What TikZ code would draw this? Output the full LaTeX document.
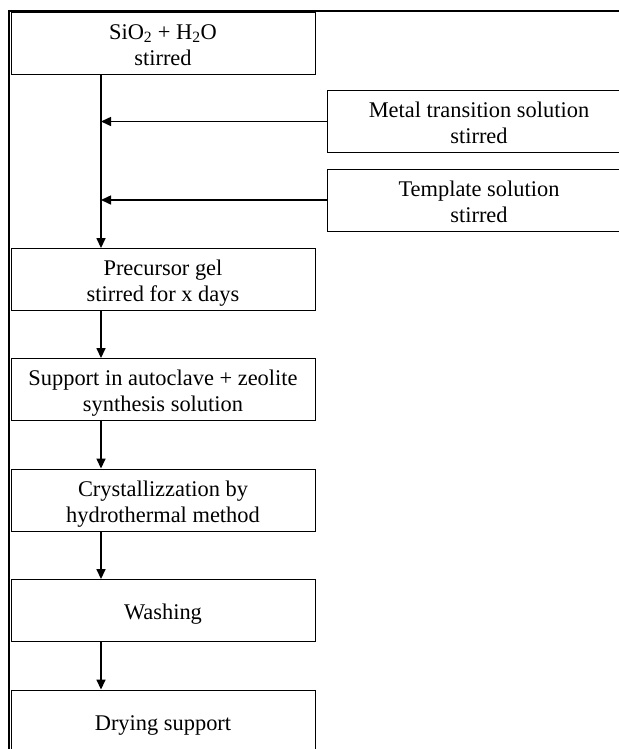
\documentclass[tikz,border=0pt]{standalone}
\usepackage{fontspec}
\setmainfont{Liberation Serif}
\usetikzlibrary{arrows.meta,positioning,calc}

% box text, set a little below the middle of the box
\newcommand{\steptext}[1]{\raisebox{-4bp}[\height][\depth]{\begin{tabular}{@{}c@{}}#1\end{tabular}}}

\tikzset{
    stepbox/.style={draw, line width=0.9bp, minimum width=304bp, minimum height=62bp,
        inner sep=0pt, font=\fontsize{22.5}{26}\selectfont},
    flow/.style={line width=1.5bp, -{Triangle[length=10bp,width=9bp]}}
}

\begin{document}
\begin{tikzpicture}[x=1bp,y=-1bp]
        \useasboundingbox (0,0) rectangle (619,749);
        \clip (0,0) rectangle (619,749);
        % frame
        \draw[line width=2bp] (9,780) -- (9,11) -- (660,11);

        \node[stepbox] (sio) at (163,43) {\steptext{SiO\textsubscript{2} + H\textsubscript{2}O\\stirred}};
        \node[stepbox] (metal) at (479,121.5) {\steptext{Metal transition solution\\stirred}};
        \node[stepbox] (templ) at (479,200) {\steptext{Template solution\\stirred}};
        \node[stepbox] (gel) at (163,279.5) {\steptext{Precursor gel\\stirred for x days}};
        \node[stepbox] (auto) at (163,389.5) {\steptext{Support in autoclave + zeolite\\synthesis solution}};
        \node[stepbox] (cryst) at (163,500) {\steptext{Crystallizzation by\\hydrothermal method}};
        \node[stepbox] (wash) at (163,610.5) {\steptext{Washing}};
        \node[stepbox] (dry) at (163,721) {\steptext{Drying support}};

        \coordinate (spine) at (101,0);
        \draw[flow] (sio.south -| spine) -- (gel.north -| spine);
        \draw[flow] (metal.west) -- (metal.west -| spine);
        \draw[flow] (templ.west) -- (templ.west -| spine);
        \draw[flow] (gel.south -| spine) -- (auto.north -| spine);
        \draw[flow] (auto.south -| spine) -- (cryst.north -| spine);
        \draw[flow] (cryst.south -| spine) -- (wash.north -| spine);
        \draw[flow] (wash.south -| spine) -- (dry.north -| spine);
    \end{tikzpicture}
\end{document}
